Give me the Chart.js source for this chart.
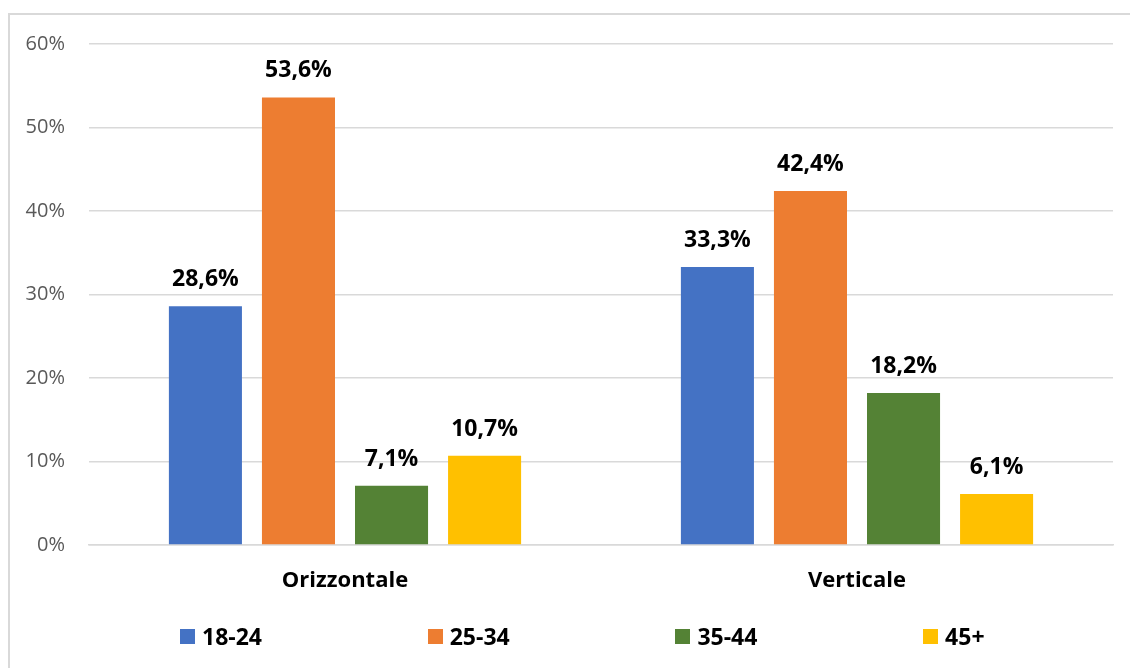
<!DOCTYPE html>
<html>
<head>
<meta charset="utf-8">
<script src="https://cdn.jsdelivr.net/npm/chart.js@4"></script>
<style>
  html, body { margin: 0; padding: 0; background: #fff; overflow: hidden; }
  #wrap { position: relative; width: 1130px; height: 668px; }
  #frame {
    position: absolute; left: 8px; top: 13px; width: 1140px; height: 680px;
    border: 2px solid #d9d9d9; box-sizing: border-box;
  }
  #chart { position: absolute; left: 0; top: 0; }
  #legend { position: absolute; left: 0; top: 623px; width: 1130px; height: 26px; }
  .item {
    position: absolute; top: 0; display: flex; align-items: center; height: 26px;
    font: bold 23px "Open Sans", sans-serif; color: #000;
  }
  .swatch { width: 15px; height: 15px; margin-right: 7px; }
</style>
</head>
<body>
<div id="wrap">
  <div id="frame"></div>
  <canvas id="chart" width="1130" height="668"></canvas>
  <div id="legend"></div>
</div>
<script>
// ---------------------------------------------------------------------------
// Data
// ---------------------------------------------------------------------------
const categories = ['Orizzontale', 'Verticale'];
const ageGroups  = ['18-24', '25-34', '35-44', '45+'];
const colors     = ['#4472C4', '#ED7D31', '#548235', '#FFC000'];

const v18_24 = [28.6, 33.3];
const v25_34 = [53.6, 42.4];
const v35_44 = [7.1, 18.2];
const v45    = [10.7, 6.1];

const yTicks = [0, 10, 20, 30, 40, 50, 60];

const seriesValues = [v18_24, v25_34, v35_44, v45];

function pct(v) {
  return v.toFixed(1).replace('.', ',') + '%';
}

// ---------------------------------------------------------------------------
// Value labels above bars
// ---------------------------------------------------------------------------
const valueLabels = {
  id: 'valueLabels',
  afterDatasetsDraw(chart) {
    const ctx = chart.ctx;
    ctx.save();
    ctx.font = 'bold 23px "Open Sans", sans-serif';
    ctx.fillStyle = '#000';
    ctx.textAlign = 'center';
    ctx.textBaseline = 'alphabetic';
    chart.data.datasets.forEach((ds, di) => {
      chart.getDatasetMeta(di).data.forEach((bar, i) => {
        ctx.fillText(pct(ds.data[i]), bar.x, bar.y - 20);
      });
    });
    ctx.restore();
  },
};

const chart = new Chart(document.getElementById('chart'), {
  type: 'bar',
  data: {
    labels: categories,
    datasets: ageGroups.map((g, i) => ({
      label: g,
      data: seriesValues[i],
      backgroundColor: colors[i],
      categoryPercentage: 0.727,
      barPercentage: 0.785,
    })),
  },
  options: {
    responsive: false,
    animation: false,
    devicePixelRatio: 1,
    layout: { padding: { left: 0, top: 44, right: 17, bottom: 0 } },
    plugins: {
      legend: { display: false },
      tooltip: { enabled: false },
    },
    scales: {
      x: {
        grid: { display: false },
        border: { display: true, color: '#d9d9d9', width: 1.5 },
        ticks: {
          color: '#000',
          padding: 15,
          font: { family: '"Open Sans", sans-serif', size: 22, weight: 'bold' },
        },
        afterFit(scale) { scale.height = 123; },
      },
      y: {
        min: 0,
        max: 60,
        afterBuildTicks(scale) { scale.ticks = yTicks.map(v => ({ value: v })); },
        grid: { color: '#d9d9d9', lineWidth: 1.5, drawTicks: false },
        border: { display: false },
        ticks: {
          color: '#595959',
          padding: 24,
          font: { family: '"Open Sans", sans-serif', size: 20 },
          callback: v => v + '%',
        },
        afterFit(scale) { scale.width = 89; },
      },
    },
  },
  plugins: [valueLabels],
});

// ---------------------------------------------------------------------------
// Legend (HTML, built from the datasets)
// ---------------------------------------------------------------------------
const legendEl = document.getElementById('legend');
chart.data.datasets.forEach((ds, i) => {
  const item = document.createElement('div');
  item.className = 'item';
  item.style.left = (180 + i * 247.7) + 'px';
  item.innerHTML = `<span class="swatch" style="background:${ds.backgroundColor}"></span>${ds.label}`;
  legendEl.appendChild(item);
});
</script>
</body>
</html>
